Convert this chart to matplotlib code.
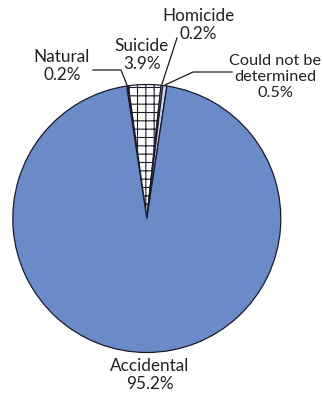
import matplotlib
matplotlib.use("Agg")
import matplotlib.pyplot as plt

categories = ["Natural", "Suicide", "Homicide", "Could not be\ndetermined", "Accidental"]
values = [0.2, 3.9, 0.2, 0.5, 95.2]
value_labels = ["0.2%", "3.9%", "0.2%", "0.5%", "95.2%"]
colors = ["#1d3f86", "#ffffff", "#ffffff", "#c9d5ee", "#6b8bc8"]
hatches = [None, "++", None, None, None]

W, H = 323, 401
plt.rcParams['hatch.linewidth'] = 0.8
plt.rcParams['hatch.color'] = "#1a1a1a"
fig = plt.figure(figsize=(W / 100, H / 100), dpi=100)
ax = fig.add_axes([0, 0, 1, 1])

def Y(py):
    return H - py

cx, cy, r = 146.8, Y(218.5), 134
small_total = sum(values[:4])
start = 90 + small_total * 3.6 / 2

wedges, _ = ax.pie(values, colors=colors, startangle=start, counterclock=False,
                   center=(cx, cy), radius=r, frame=True,
                   wedgeprops=dict(edgecolor="#1a1a2a", linewidth=0.9))
ax.set_xlim(0, W)
ax.set_ylim(0, H)
ax.set_aspect("equal")
ax.axis("off")
for w, h in zip(wedges, hatches):
    if h:
        w.set_hatch(h)

font = dict(family=["Lato", "DejaVu Sans"], fontsize=12.3, color="#222222",
            ha="center", va="center", linespacing=1.15)

ax.text(62, Y(66), categories[0] + "\n" + value_labels[0], **font)
ax.text(142, Y(55), categories[1] + "\n" + value_labels[1], **font)
ax.text(198, Y(25), categories[2] + "\n" + value_labels[2], **font)
font_cnd = dict(font, fontsize=11.7)
ax.text(275, Y(77), categories[3] + "\n" + value_labels[3], **font_cnd)
ax.text(150, Y(375), categories[4] + "\n" + value_labels[4], **font)

lk = dict(color="#1a1a1a", linewidth=0.9)
ax.plot([93, 121, 127], [Y(70), Y(70), Y(85)], **lk)
ax.plot([177, 162], [Y(38), Y(84)], **lk)
ax.plot([232, 193, 165], [Y(72), Y(72), Y(85)], **lk)

fig.savefig("out.png", dpi=100)
